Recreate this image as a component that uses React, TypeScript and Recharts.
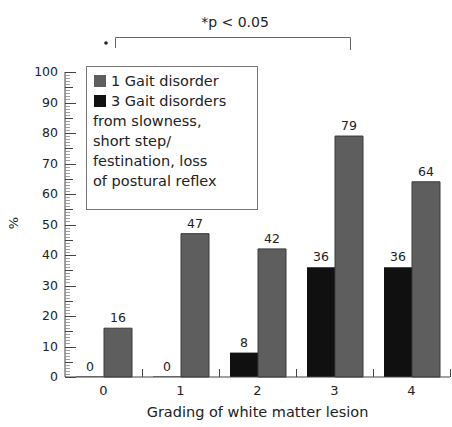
import { BarChart, Bar, XAxis, YAxis, LabelList } from "recharts"

const grades = ["0", "1", "2", "3", "4"]
const threeGait = [0, 0, 8, 36, 36]
const oneGait = [16, 47, 42, 79, 64]

const majorTicks = [0, 10, 20, 30, 40, 50, 60, 70, 80, 90, 100]
const minorTicks = Array.from({ length: 101 }, (_, i) => i)

const legendLines = ["from slowness,", "short step/", "festination, loss", "of postural reflex"]

const FONT = "'DejaVu Sans', Verdana, sans-serif"
const GRAY = "#5e5e5e"
const BLACK = "#101010"
const INK = "#222"
const AXIS = "#444"

const data = grades.map((g, i) => ({ grade: g, three: threeGait[i], one: oneGait[i] }))

const W = 452
const H = 427
// plot box, same numbers that go into the chart margins below
const TOP = 72
const LEFT = 65
const RIGHT = W - 2
const XAXIS_H = 50
const BOTTOM = H - XAXIS_H

// tick marks only (decoration); the bars go through recharts' own scales
const yPx = (v: number) => BOTTOM - (v / 100) * (BOTTOM - TOP)
const band = (RIGHT - LEFT) / grades.length

export default function App() {
  return (
    <div style={{ position: "absolute", left: 0, top: 0, width: W, height: H, background: "#fff", fontFamily: FONT }}>
      <BarChart
        width={W}
        height={H}
        data={data}
        margin={{ top: TOP, right: W - RIGHT, left: 0, bottom: 0 }}
        barCategoryGap={11}
        barGap={0}
      >
        <XAxis
          dataKey="grade"
          height={XAXIS_H}
          tickLine={false}
          tickSize={0}
          tickMargin={9}
          tick={{ fontSize: 13, fill: INK, fontFamily: FONT }}
          axisLine={{ stroke: AXIS }}
          label={{ value: "Grading of white matter lesion", position: "insideBottom", offset: 10, fontSize: 14.5, fill: INK, fontFamily: FONT }}
        />
        <YAxis
          type="number"
          domain={[0, 100]}
          ticks={majorTicks}
          interval={0}
          width={LEFT}
          tickLine={false}
          tickSize={0}
          tickMargin={7}
          tick={{ fontSize: 12.5, fill: INK, fontFamily: FONT }}
          axisLine={{ stroke: AXIS }}
        />
        <Bar dataKey="three" fill={BLACK} minPointSize={0.5} isAnimationActive={false}>
          <LabelList dataKey="three" position="top" offset={6} fontSize={12.5} fill={INK} fontFamily={FONT} />
        </Bar>
        <Bar dataKey="one" fill={GRAY} stroke="#3a3a3a" strokeWidth={1} isAnimationActive={false}>
          <LabelList dataKey="one" position="top" offset={6} fontSize={12.5} fill={INK} fontFamily={FONT} />
        </Bar>
      </BarChart>
      <svg width={W} height={H} style={{ position: "absolute", left: 0, top: 0, pointerEvents: "none" }}>
        {minorTicks.map(v => {
          const len = v % 10 === 0 ? 11 : v % 5 === 0 ? 8 : 5
          const y = Math.round(yPx(v)) + 0.5
          return <line key={v} x1={LEFT} x2={LEFT + len} y1={y} y2={y} stroke={v % 5 === 0 ? AXIS : "#888"} strokeWidth={v % 5 === 0 ? 1 : 0.8} />
        })}
        {grades.map((g, i) => {
          const x = Math.round(LEFT + band * (i + 1)) + 0.5
          return <line key={g} x1={x} x2={x} y1={BOTTOM} y2={BOTTOM - 8} stroke={AXIS} strokeWidth={1} />
        })}
        <text x={235} y={27} textAnchor="middle" fontSize={14} fill={INK} fontFamily={FONT}>*p &lt; 0.05</text>
        <path d="M115.5,48 L115.5,37.5 L350.5,37.5 L350.5,50" fill="none" stroke="#666" strokeWidth={1} />
        <circle cx={106} cy={43} r={1.8} fill={INK} />
        <text x={18} y={223} textAnchor="middle" fontSize={13} fill={INK} fontFamily={FONT} transform="rotate(-90 18 223)">%</text>
        <rect x={86.5} y={66.5} width={171} height={143} fill="#fff" stroke="#777" strokeWidth={1} />
        <rect x={94} y={75} width={12} height={12} fill={GRAY} />
        <text x={111} y={86} fontSize={14.5} fill={INK} fontFamily={FONT}>1 Gait disorder</text>
        <rect x={94} y={95} width={12} height={12} fill={BLACK} />
        <text x={111} y={106} fontSize={14.5} fill={INK} fontFamily={FONT}>3 Gait disorders</text>
        {legendLines.map((t, i) => (
          <text key={t} x={93} y={126 + i * 20} fontSize={14.5} fill={INK} fontFamily={FONT}>{t}</text>
        ))}
      </svg>
    </div>
  )
}
